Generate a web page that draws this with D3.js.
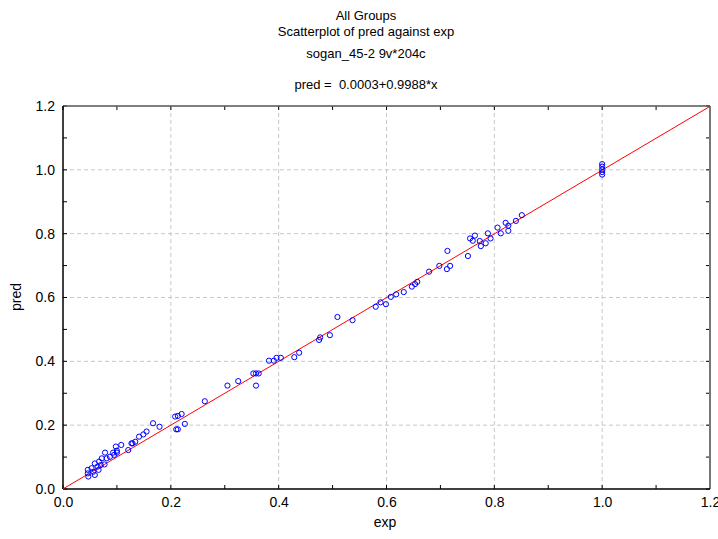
<!DOCTYPE html>
<html>
<head>
<meta charset="utf-8">
<script src="https://cdn.jsdelivr.net/npm/d3@7"></script>
<style>
  body { margin: 0; background: #fff; }
  text { font-family: "Liberation Sans", Arial, sans-serif; }
</style>
</head>
<body>
<script>
"use strict";
// values
const titleLines = ["All Groups", "Scatterplot of pred against exp", "sogan_45-2 9v*204c"]
const fitText = "pred =  0.0003+0.9988*x"
const fitIntercept = 0.0003
const fitSlope = 0.9988
const tickValues = [0, 0.2, 0.4, 0.6, 0.8, 1.0, 1.2]
const minorTicks = [0.1, 0.3, 0.5, 0.7, 0.9, 1.1]

const expValues = [
  0.046, 0.046, 0.047, 0.053, 0.056, 0.059, 0.059, 0.064, 0.066, 0.067,
  0.070, 0.077, 0.078, 0.072, 0.081, 0.087, 0.093, 0.095, 0.100, 0.100,
  0.108, 0.121, 0.129, 0.098, 0.127, 0.134, 0.141, 0.149, 0.155, 0.167,
  0.179, 0.208, 0.213, 0.220, 0.210, 0.213, 0.226, 0.263, 0.305, 0.325,
  0.353, 0.358, 0.363, 0.358, 0.382, 0.391, 0.396, 0.404, 0.429, 0.438,
  0.475, 0.477, 0.495, 0.509, 0.537, 0.580, 0.589, 0.599, 0.608, 0.618,
  0.632, 0.647, 0.653, 0.657, 0.679, 0.698, 0.712, 0.718, 0.713, 0.751,
  0.755, 0.760, 0.764, 0.773, 0.775, 0.784, 0.788, 0.793, 0.812, 0.806,
  0.821, 0.826, 0.826, 0.840, 0.851, 1.0, 1.0, 1.0, 1.0, 1.0
]
const predValues = [
  0.060, 0.049, 0.039, 0.065, 0.054, 0.080, 0.044, 0.070, 0.060, 0.086,
  0.075, 0.077, 0.114, 0.096, 0.096, 0.101, 0.114, 0.107, 0.120, 0.114,
  0.138, 0.122, 0.143, 0.133, 0.143, 0.148, 0.164, 0.171, 0.180, 0.206,
  0.195, 0.227, 0.229, 0.235, 0.187, 0.187, 0.204, 0.275, 0.324, 0.338,
  0.362, 0.362, 0.362, 0.324, 0.402, 0.402, 0.411, 0.411, 0.413, 0.427,
  0.467, 0.475, 0.482, 0.539, 0.529, 0.571, 0.585, 0.579, 0.602, 0.610,
  0.617, 0.634, 0.642, 0.649, 0.681, 0.699, 0.689, 0.699, 0.746, 0.730,
  0.785, 0.778, 0.794, 0.777, 0.761, 0.770, 0.801, 0.785, 0.801, 0.819,
  0.834, 0.825, 0.809, 0.840, 0.858, 1.018, 1.010, 1.001, 0.993, 0.985
]

const measurements = { width: 718, height: 539, left: 63, right: 710, top: 106, bottom: 489 }

const svg = d3.select("body").append("svg")
  .attr("width", measurements.width)
  .attr("height", measurements.height)

const scaleX = d3.scaleLinear().domain([0, 1.2]).range([measurements.left, measurements.right])
const scaleY = d3.scaleLinear().domain([0, 1.2]).range([measurements.bottom, measurements.top])

// titles
titleLines.forEach((t, i) => {
  svg.append("text")
    .attr("x", 366).attr("y", [20, 36, 58][i])
    .attr("text-anchor", "middle")
    .style("font-size", "13px")
    .text(t)
})
svg.append("text")
  .attr("x", 366).attr("y", 89)
  .attr("text-anchor", "middle")
  .style("font-size", "13px")
  .style("white-space", "pre")
  .text(fitText)

// grid
const gridVals = [0.2, 0.4, 0.6, 0.8, 1.0]
svg.append("g").selectAll("line.gx").data(gridVals).enter().append("line")
  .attr("x1", d => scaleX(d)).attr("x2", d => scaleX(d))
  .attr("y1", measurements.top).attr("y2", measurements.bottom)
  .attr("stroke", "#c8c8c8").attr("stroke-dasharray", "4,3")
svg.append("g").selectAll("line.gy").data(gridVals).enter().append("line")
  .attr("x1", measurements.left).attr("x2", measurements.right)
  .attr("y1", d => scaleY(d)).attr("y2", d => scaleY(d))
  .attr("stroke", "#c8c8c8").attr("stroke-dasharray", "4,3")

// axes, ticks inside
const allTicks = tickValues.concat(minorTicks)
const xAxis = d3.axisBottom(scaleX).tickValues(tickValues).tickFormat(d3.format(".1f")).tickSize(0).tickPadding(8)
const yAxis = d3.axisLeft(scaleY).tickValues(tickValues).tickFormat(d3.format(".1f")).tickSize(0).tickPadding(8)

const gx = svg.append("g").attr("transform", `translate(0,${measurements.bottom})`).call(xAxis)
const gy = svg.append("g").attr("transform", `translate(${measurements.left},0)`).call(yAxis)
;[gx, gy].forEach(g => {
  g.select(".domain").remove()
  g.selectAll("text").style("font-size", "14px").style("font-family", "Liberation Sans, Arial, sans-serif").attr("fill", "#000")
})

// inner tick marks
const tickG = svg.append("g").attr("stroke", "#000")
tickG.selectAll(".tb").data(allTicks).enter().append("line")
  .attr("x1", d => scaleX(d)).attr("x2", d => scaleX(d))
  .attr("y1", measurements.bottom).attr("y2", measurements.bottom - 4)
tickG.selectAll(".tt").data(allTicks).enter().append("line")
  .attr("x1", d => scaleX(d)).attr("x2", d => scaleX(d))
  .attr("y1", measurements.top).attr("y2", measurements.top + 4)
tickG.selectAll(".tl").data(allTicks).enter().append("line")
  .attr("x1", measurements.left).attr("x2", measurements.left + 4)
  .attr("y1", d => scaleY(d)).attr("y2", d => scaleY(d))
tickG.selectAll(".tr").data(allTicks).enter().append("line")
  .attr("x1", measurements.right).attr("x2", measurements.right - 4)
  .attr("y1", d => scaleY(d)).attr("y2", d => scaleY(d))

// frame
svg.append("line").attr("x1", measurements.left).attr("x2", measurements.right)
  .attr("y1", measurements.top).attr("y2", measurements.top).attr("stroke", "#555").attr("stroke-width", 1.5)
svg.append("line").attr("x1", measurements.right).attr("x2", measurements.right)
  .attr("y1", measurements.top).attr("y2", measurements.bottom).attr("stroke", "#777").attr("stroke-width", 2)
svg.append("line").attr("x1", measurements.left).attr("x2", measurements.right)
  .attr("y1", measurements.bottom).attr("y2", measurements.bottom).attr("stroke", "#000").attr("stroke-width", 1.5)
svg.append("line").attr("x1", measurements.left).attr("x2", measurements.left)
  .attr("y1", measurements.top).attr("y2", measurements.bottom).attr("stroke", "#000").attr("stroke-width", 1.5)

// axis titles
svg.append("text").attr("x", 385).attr("y", 527).attr("text-anchor", "middle")
  .style("font-size", "14px").text("exp")
svg.append("text").attr("transform", "translate(21,297) rotate(-90)").attr("text-anchor", "middle")
  .style("font-size", "14px").text("pred")

// fitted line
svg.append("line")
  .attr("x1", scaleX(0)).attr("y1", scaleY(fitIntercept))
  .attr("x2", scaleX(1.2)).attr("y2", scaleY(fitIntercept + fitSlope * 1.2))
  .attr("stroke", "#ff0000").attr("stroke-width", 1)

// points
const points = expValues.map((e, i) => ({ exp: e, pred: predValues[i] }))
svg.append("g").selectAll("circle").data(points).enter().append("circle")
  .attr("cx", d => scaleX(d.exp))
  .attr("cy", d => scaleY(d.pred))
  .attr("r", 2.6)
  .attr("fill", "none")
  .attr("stroke", "#0000ff")
  .attr("stroke-width", 1)
</script>
</body>
</html>
